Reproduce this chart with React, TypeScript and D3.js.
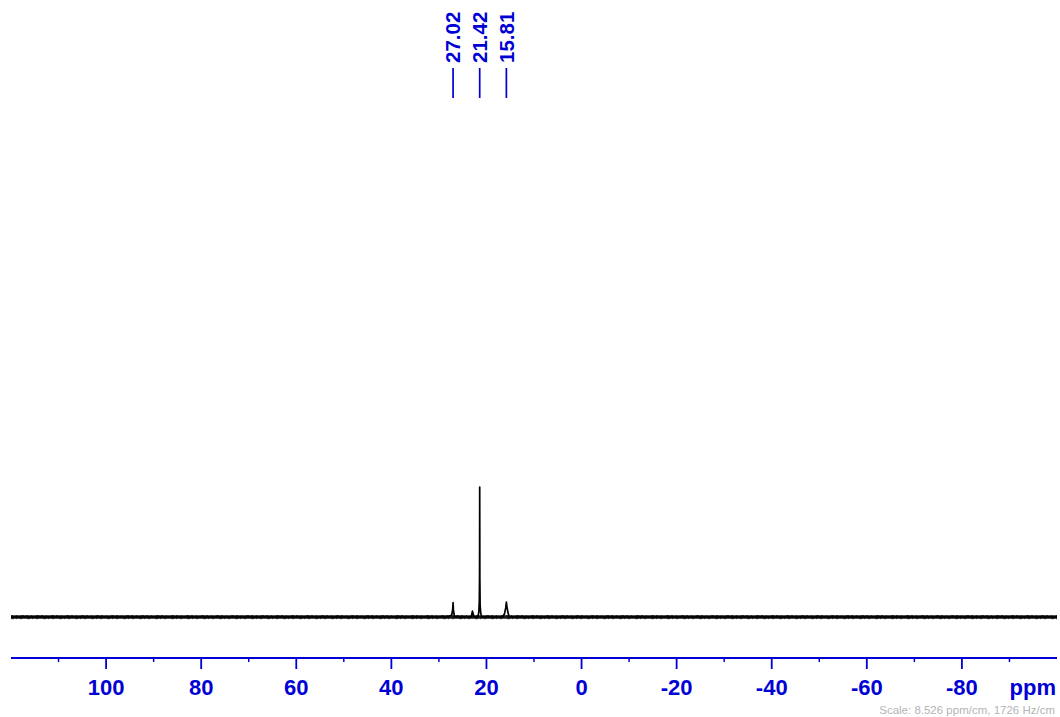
import React from "react";
import * as d3 from "d3";

const W = 1060;
const H = 717;

// Spectrum points: chemical shift (ppm) and relative intensity (main peak = 100)
const specPpm = [120, 28.2, 27.3, 27.1, 27.02, 26.95, 26.7, 23.2, 22.95, 22.85, 22.6, 21.8, 21.6, 21.5, 21.45, 21.42, 21.39, 21.33, 21.2, 21.0, 16.6, 16.2, 15.95, 15.81, 15.7, 15.45, 15.2, -100];
const specInt = [0, 0, 1.5, 6, 11, 5, 0, 0, 4.5, 3, 0, 0, 4, 12, 33, 100, 30, 9, 3, 0, 0, 2.5, 7, 11.5, 8, 3, 0, 0];

// Peak labels
const peakLabels = [27.02, 21.42, 15.81];

// Axis ticks
const majorTicks = [100, 80, 60, 40, 20, 0, -20, -40, -60, -80];
const minorTicks = [110, 90, 70, 50, 30, 10, -10, -30, -50, -70, -90];

const BLUE = "#0000d4";
const FONT = "'Liberation Sans', Arial, sans-serif";

export default function App() {
  const x = d3.scaleLinear().domain([120, -100]).range([11, 1057]);
  const y = d3.scaleLinear().domain([0, 100]).range([617, 487]);

  const pts: [number, number][] = specPpm.map((p, i) => [p, specInt[i]]);
  const line = d3
    .line<[number, number]>()
    .x((d) => x(d[0]))
    .y((d) => y(d[1]));

  const axisY = 658;
  const labelBaseline = 695;

  return (
    <svg
      width={W}
      height={H}
      style={{ position: "absolute", left: 0, top: 0, background: "#fff" }}
    >
      {/* baseline noise band */}
      <line x1={x(120)} x2={x(-100)} y1={y(0)} y2={y(0)} stroke="#1a1a1a" strokeWidth={3.4} />
      <line x1={x(120)} x2={x(-100)} y1={y(0) - 1.4} y2={y(0) - 1.4} stroke="#000" strokeWidth={1.2} strokeDasharray="2 3 1 4 3 2" opacity={0.55} />
      <line x1={x(120)} x2={x(-100)} y1={y(0) + 1.6} y2={y(0) + 1.6} stroke="#000" strokeWidth={1.2} strokeDasharray="3 2 1 3 2 5" opacity={0.55} />
      {/* spectrum */}
      <path d={line(pts) || ""} fill="none" stroke="#000" strokeWidth={1.7} strokeLinejoin="round" />

      {/* peak labels */}
      {peakLabels.map((p) => (
        <g key={p}>
          <line x1={x(p)} x2={x(p)} y1={68} y2={98} stroke={BLUE} strokeWidth={1.7} />
          <text
            transform={`translate(${x(p)},63) rotate(-90)`}
            dy="0.36em"
            textAnchor="start"
            fontFamily={FONT}
            fontWeight="bold"
            fontSize={20.5}
            fill={BLUE}
          >
            {p.toFixed(2)}
          </text>
        </g>
      ))}

      {/* axis */}
      <line x1={x(120)} x2={x(-100)} y1={axisY} y2={axisY} stroke={BLUE} strokeWidth={2} />
      {minorTicks.map((t) => (
        <line key={"m" + t} x1={x(t)} x2={x(t)} y1={axisY} y2={axisY + 4} stroke={BLUE} strokeWidth={1.5} />
      ))}
      {majorTicks.map((t) => (
        <g key={"M" + t}>
          <line x1={x(t)} x2={x(t)} y1={axisY} y2={axisY + 11} stroke={BLUE} strokeWidth={1.8} />
          <text
            x={x(t)}
            y={labelBaseline}
            textAnchor="middle"
            fontFamily={FONT}
            fontWeight="bold"
            fontSize={22}
            fill={BLUE}
          >
            {t}
          </text>
        </g>
      ))}
      <text x={1056} y={labelBaseline} textAnchor="end" fontFamily={FONT} fontWeight="bold" fontSize={22} fill={BLUE}>
        ppm
      </text>
      <text x={1055} y={714} textAnchor="end" fontFamily={FONT} fontSize={11.5} fill="#b4b4b4">
        Scale: 8.526 ppm/cm, 1726 Hz/cm
      </text>
    </svg>
  );
}
